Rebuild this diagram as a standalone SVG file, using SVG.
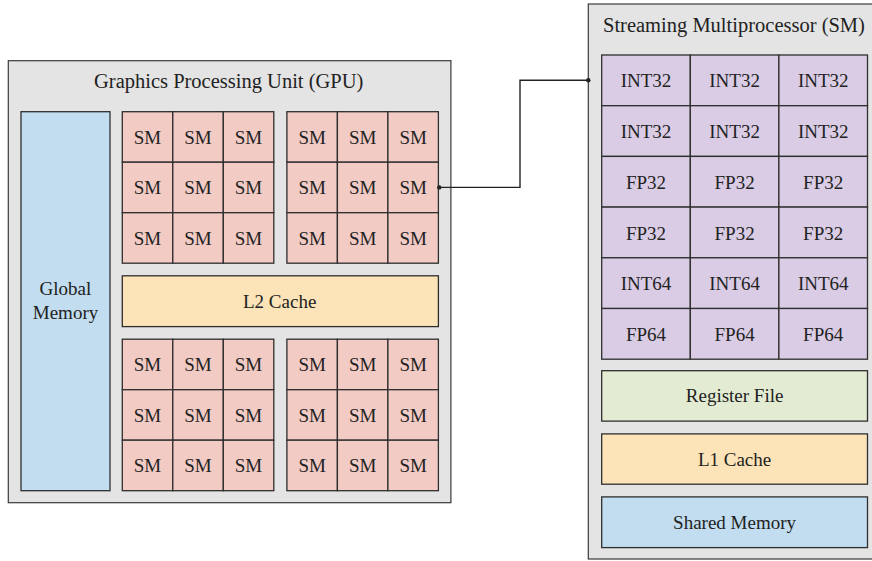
<svg xmlns="http://www.w3.org/2000/svg" width="872" height="561" viewBox="0 0 872 561">
  <style>
    text { font-size: 19px; fill: #222; }
    text.title { font-size: 20.5px; }
    .frame { fill: #e4e4e4; stroke: #3a3a3a; stroke-width: 1.2; }
    .sm { fill: #f2cbc5; stroke: #2e2e2e; stroke-width: 1.3; }
    .unit { fill: #d9cce4; stroke: #2e2e2e; stroke-width: 1.3; }
    .mem { fill: #c1ddef; stroke: #2e2e2e; stroke-width: 1.3; }
    .cache { fill: #fce4b8; stroke: #2e2e2e; stroke-width: 1.3; }
    .reg { fill: #e3ecd2; stroke: #2e2e2e; stroke-width: 1.3; }
    .wire { fill: none; stroke: #222; stroke-width: 1.4; }
    .dot { fill: #222; }
  </style>

  <!-- GPU -->
  <g id="gpu">
    <rect class="frame" x="8.3" y="60.7" width="442.6" height="442"/>
    <text class="title" x="94" y="88" font-family="Liberation Serif">Graphics Processing Unit (GPU)</text>
  </g>

  <g id="global-memory">
    <rect class="mem" x="21" y="111.7" width="89" height="379"/>
    <text x="39.6" y="295" font-family="Liberation Serif">Global</text>
    <text x="32.8" y="319" font-family="Liberation Serif">Memory</text>
  </g>

  <g id="sm-block-top-left">
    <rect class="sm" x="122.3" y="111.7" width="50.5" height="50.5"/>
    <rect class="sm" x="172.8" y="111.7" width="50.5" height="50.5"/>
    <rect class="sm" x="223.3" y="111.7" width="50.5" height="50.5"/>
    <rect class="sm" x="122.3" y="162.2" width="50.5" height="50.5"/>
    <rect class="sm" x="172.8" y="162.2" width="50.5" height="50.5"/>
    <rect class="sm" x="223.3" y="162.2" width="50.5" height="50.5"/>
    <rect class="sm" x="122.3" y="212.7" width="50.5" height="50.5"/>
    <rect class="sm" x="172.8" y="212.7" width="50.5" height="50.5"/>
    <rect class="sm" x="223.3" y="212.7" width="50.5" height="50.5"/>
    <text x="133.8" y="143.7" font-family="Liberation Serif">SM</text>
    <text x="184.3" y="143.7" font-family="Liberation Serif">SM</text>
    <text x="234.8" y="143.7" font-family="Liberation Serif">SM</text>
    <text x="133.8" y="194.2" font-family="Liberation Serif">SM</text>
    <text x="184.3" y="194.2" font-family="Liberation Serif">SM</text>
    <text x="234.8" y="194.2" font-family="Liberation Serif">SM</text>
    <text x="133.8" y="244.7" font-family="Liberation Serif">SM</text>
    <text x="184.3" y="244.7" font-family="Liberation Serif">SM</text>
    <text x="234.8" y="244.7" font-family="Liberation Serif">SM</text>
  </g>

  <g id="sm-block-top-right">
    <rect class="sm" x="286.9" y="111.7" width="50.5" height="50.5"/>
    <rect class="sm" x="337.4" y="111.7" width="50.5" height="50.5"/>
    <rect class="sm" x="387.9" y="111.7" width="50.5" height="50.5"/>
    <rect class="sm" x="286.9" y="162.2" width="50.5" height="50.5"/>
    <rect class="sm" x="337.4" y="162.2" width="50.5" height="50.5"/>
    <rect class="sm" x="387.9" y="162.2" width="50.5" height="50.5"/>
    <rect class="sm" x="286.9" y="212.7" width="50.5" height="50.5"/>
    <rect class="sm" x="337.4" y="212.7" width="50.5" height="50.5"/>
    <rect class="sm" x="387.9" y="212.7" width="50.5" height="50.5"/>
    <text x="298.4" y="143.7" font-family="Liberation Serif">SM</text>
    <text x="348.9" y="143.7" font-family="Liberation Serif">SM</text>
    <text x="399.4" y="143.7" font-family="Liberation Serif">SM</text>
    <text x="298.4" y="194.2" font-family="Liberation Serif">SM</text>
    <text x="348.9" y="194.2" font-family="Liberation Serif">SM</text>
    <text x="399.4" y="194.2" font-family="Liberation Serif">SM</text>
    <text x="298.4" y="244.7" font-family="Liberation Serif">SM</text>
    <text x="348.9" y="244.7" font-family="Liberation Serif">SM</text>
    <text x="399.4" y="244.7" font-family="Liberation Serif">SM</text>
  </g>

  <g id="l2-cache">
    <rect class="cache" x="122.3" y="275.8" width="316.1" height="50.8"/>
    <text x="243" y="307.7" font-family="Liberation Serif">L2 Cache</text>
  </g>

  <g id="sm-block-bottom-left">
    <rect class="sm" x="122.3" y="339.2" width="50.5" height="50.5"/>
    <rect class="sm" x="172.8" y="339.2" width="50.5" height="50.5"/>
    <rect class="sm" x="223.3" y="339.2" width="50.5" height="50.5"/>
    <rect class="sm" x="122.3" y="389.7" width="50.5" height="50.5"/>
    <rect class="sm" x="172.8" y="389.7" width="50.5" height="50.5"/>
    <rect class="sm" x="223.3" y="389.7" width="50.5" height="50.5"/>
    <rect class="sm" x="122.3" y="440.2" width="50.5" height="50.5"/>
    <rect class="sm" x="172.8" y="440.2" width="50.5" height="50.5"/>
    <rect class="sm" x="223.3" y="440.2" width="50.5" height="50.5"/>
    <text x="133.8" y="371.2" font-family="Liberation Serif">SM</text>
    <text x="184.3" y="371.2" font-family="Liberation Serif">SM</text>
    <text x="234.8" y="371.2" font-family="Liberation Serif">SM</text>
    <text x="133.8" y="421.7" font-family="Liberation Serif">SM</text>
    <text x="184.3" y="421.7" font-family="Liberation Serif">SM</text>
    <text x="234.8" y="421.7" font-family="Liberation Serif">SM</text>
    <text x="133.8" y="472.2" font-family="Liberation Serif">SM</text>
    <text x="184.3" y="472.2" font-family="Liberation Serif">SM</text>
    <text x="234.8" y="472.2" font-family="Liberation Serif">SM</text>
  </g>

  <g id="sm-block-bottom-right">
    <rect class="sm" x="286.9" y="339.2" width="50.5" height="50.5"/>
    <rect class="sm" x="337.4" y="339.2" width="50.5" height="50.5"/>
    <rect class="sm" x="387.9" y="339.2" width="50.5" height="50.5"/>
    <rect class="sm" x="286.9" y="389.7" width="50.5" height="50.5"/>
    <rect class="sm" x="337.4" y="389.7" width="50.5" height="50.5"/>
    <rect class="sm" x="387.9" y="389.7" width="50.5" height="50.5"/>
    <rect class="sm" x="286.9" y="440.2" width="50.5" height="50.5"/>
    <rect class="sm" x="337.4" y="440.2" width="50.5" height="50.5"/>
    <rect class="sm" x="387.9" y="440.2" width="50.5" height="50.5"/>
    <text x="298.4" y="371.2" font-family="Liberation Serif">SM</text>
    <text x="348.9" y="371.2" font-family="Liberation Serif">SM</text>
    <text x="399.4" y="371.2" font-family="Liberation Serif">SM</text>
    <text x="298.4" y="421.7" font-family="Liberation Serif">SM</text>
    <text x="348.9" y="421.7" font-family="Liberation Serif">SM</text>
    <text x="399.4" y="421.7" font-family="Liberation Serif">SM</text>
    <text x="298.4" y="472.2" font-family="Liberation Serif">SM</text>
    <text x="348.9" y="472.2" font-family="Liberation Serif">SM</text>
    <text x="399.4" y="472.2" font-family="Liberation Serif">SM</text>
  </g>

  <!-- Streaming Multiprocessor -->
  <g id="sm-detail">
    <rect class="frame" x="588.3" y="4" width="300" height="555"/>
    <text class="title" x="603" y="32.3" font-family="Liberation Serif">Streaming Multiprocessor (SM)</text>
  </g>

  <g id="sm-units">
    <rect class="unit" x="601.7" y="55" width="88.6" height="50.7"/>
    <rect class="unit" x="690.3" y="55" width="88.6" height="50.7"/>
    <rect class="unit" x="778.9" y="55" width="88.6" height="50.7"/>
    <rect class="unit" x="601.7" y="105.7" width="88.6" height="50.7"/>
    <rect class="unit" x="690.3" y="105.7" width="88.6" height="50.7"/>
    <rect class="unit" x="778.9" y="105.7" width="88.6" height="50.7"/>
    <rect class="unit" x="601.7" y="156.4" width="88.6" height="50.7"/>
    <rect class="unit" x="690.3" y="156.4" width="88.6" height="50.7"/>
    <rect class="unit" x="778.9" y="156.4" width="88.6" height="50.7"/>
    <rect class="unit" x="601.7" y="207.1" width="88.6" height="50.7"/>
    <rect class="unit" x="690.3" y="207.1" width="88.6" height="50.7"/>
    <rect class="unit" x="778.9" y="207.1" width="88.6" height="50.7"/>
    <rect class="unit" x="601.7" y="257.8" width="88.6" height="50.7"/>
    <rect class="unit" x="690.3" y="257.8" width="88.6" height="50.7"/>
    <rect class="unit" x="778.9" y="257.8" width="88.6" height="50.7"/>
    <rect class="unit" x="601.7" y="308.5" width="88.6" height="50.7"/>
    <rect class="unit" x="690.3" y="308.5" width="88.6" height="50.7"/>
    <rect class="unit" x="778.9" y="308.5" width="88.6" height="50.7"/>
    <text x="620.7" y="87.4" font-family="Liberation Serif">INT32</text>
    <text x="709.3" y="87.4" font-family="Liberation Serif">INT32</text>
    <text x="797.9" y="87.4" font-family="Liberation Serif">INT32</text>
    <text x="620.7" y="138.1" font-family="Liberation Serif">INT32</text>
    <text x="709.3" y="138.1" font-family="Liberation Serif">INT32</text>
    <text x="797.9" y="138.1" font-family="Liberation Serif">INT32</text>
    <text x="625.9" y="188.8" font-family="Liberation Serif">FP32</text>
    <text x="714.5" y="188.8" font-family="Liberation Serif">FP32</text>
    <text x="803.1" y="188.8" font-family="Liberation Serif">FP32</text>
    <text x="625.9" y="239.5" font-family="Liberation Serif">FP32</text>
    <text x="714.5" y="239.5" font-family="Liberation Serif">FP32</text>
    <text x="803.1" y="239.5" font-family="Liberation Serif">FP32</text>
    <text x="620.7" y="290.2" font-family="Liberation Serif">INT64</text>
    <text x="709.3" y="290.2" font-family="Liberation Serif">INT64</text>
    <text x="797.9" y="290.2" font-family="Liberation Serif">INT64</text>
    <text x="625.9" y="340.9" font-family="Liberation Serif">FP64</text>
    <text x="714.5" y="340.9" font-family="Liberation Serif">FP64</text>
    <text x="803.1" y="340.9" font-family="Liberation Serif">FP64</text>
  </g>

  <g id="register-file">
    <rect class="reg" x="601.7" y="370.7" width="265.8" height="50.4"/>
    <text x="685.8" y="402.4" font-family="Liberation Serif">Register File</text>
  </g>
  <g id="l1-cache">
    <rect class="cache" x="601.7" y="433.9" width="265.8" height="50.3"/>
    <text x="697.9" y="465.6" font-family="Liberation Serif">L1 Cache</text>
  </g>
  <g id="shared-memory">
    <rect class="mem" x="601.7" y="496.9" width="265.8" height="50.7"/>
    <text x="673.1" y="528.8" font-family="Liberation Serif">Shared Memory</text>
  </g>

  <!-- link from one SM tile to the SM detail -->
  <g id="connectors">
    <path class="wire" d="M439.3,187.4 H520 V80.3 H588.3"/>
    <circle class="dot" cx="439.3" cy="187.4" r="2.2"/>
    <circle class="dot" cx="588.3" cy="80.3" r="2.2"/>
  </g>
</svg>
